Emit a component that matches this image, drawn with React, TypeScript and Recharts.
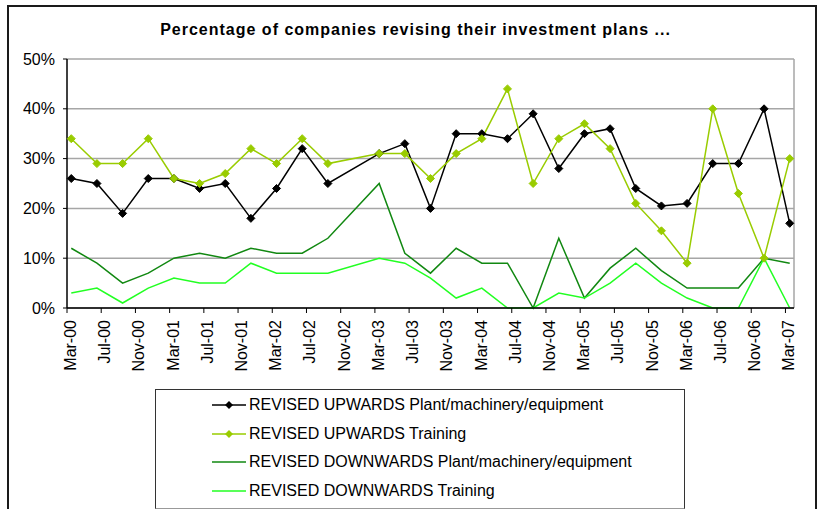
import { LineChart, Line, XAxis, YAxis, CartesianGrid, ReferenceLine } from 'recharts';

const PERIODS = [
  'Mar-00', 'Jun-00', 'Sep-00', 'Dec-00', 'Mar-01', 'Jun-01', 'Sep-01', 'Dec-01',
  'Mar-02', 'Jun-02', 'Sep-02', 'Dec-02', 'Mar-03', 'Jun-03', 'Sep-03', 'Dec-03',
  'Mar-04', 'Jun-04', 'Sep-04', 'Dec-04', 'Mar-05', 'Jun-05', 'Sep-05', 'Dec-05',
  'Mar-06', 'Jun-06', 'Sep-06', 'Dec-06', 'Mar-07',
];

const UP_PLANT = [26, 25, 19, 26, 26, 24, 25, 18, 24, 32, 25, null, 31, 33, 20, 35, 35, 34, 39, 28, 35, 36, 24, 20.5, 21, 29, 29, 40, 17];
const UP_TRAINING = [34, 29, 29, 34, 26, 25, 27, 32, 29, 34, 29, null, 31, 31, 26, 31, 34, 44, 25, 34, 37, 32, 21, 15.5, 9, 40, 23, 10, 30];
const DOWN_PLANT = [12, 9, 5, 7, 10, 11, 10, 12, 11, 11, 14, null, 25, 11, 7, 12, 9, 9, 0, 14, 2, 8, 12, 7.5, 4, 4, 4, 10, 9];
const DOWN_TRAINING = [3, 4, 1, 4, 6, 5, 5, 9, 7, 7, 7, null, 10, 9, 6, 2, 4, 0, 0, 3, 2, 5, 9, 5, 2, 0, 0, 10, 0];

const TICK_LABELS = [
  'Mar-00', 'Jul-00', 'Nov-00', 'Mar-01', 'Jul-01', 'Nov-01', 'Mar-02', 'Jul-02',
  'Nov-02', 'Mar-03', 'Jul-03', 'Nov-03', 'Mar-04', 'Jul-04', 'Nov-04', 'Mar-05',
  'Jul-05', 'Nov-05', 'Mar-06', 'Jul-06', 'Nov-06', 'Mar-07',
];
const Y_TICKS = [0, 10, 20, 30, 40, 50];

const MONTH_NAMES = ['Jan', 'Feb', 'Mar', 'Apr', 'May', 'Jun', 'Jul', 'Aug', 'Sep', 'Oct', 'Nov', 'Dec'];

// months since start of Mar-00
function monthOffset(label: string) {
  const [mon, yy] = label.split('-');
  return Number(yy) * 12 + MONTH_NAMES.indexOf(mon) - 2;
}

const SERIES = [
  { key: 'upPlant', name: 'REVISED UPWARDS Plant/machinery/equipment', color: '#000000', marker: true, values: UP_PLANT },
  { key: 'upTraining', name: 'REVISED UPWARDS Training', color: '#99CC00', marker: true, values: UP_TRAINING },
  { key: 'downPlant', name: 'REVISED DOWNWARDS Plant/machinery/equipment', color: '#118811', marker: false, values: DOWN_PLANT },
  { key: 'downTraining', name: 'REVISED DOWNWARDS Training', color: '#22FF22', marker: false, values: DOWN_TRAINING },
];

// points sit mid-month on the date axis
const chartData = PERIODS.map((p, i) => {
  const row: Record<string, number | null> = { t: monthOffset(p) + 0.5 };
  for (const s of SERIES) row[s.key] = s.values[i];
  return row;
});

const xTicks = TICK_LABELS.map(monthOffset);
const FONT = '"Liberation Sans", Arial, sans-serif';

function Diamond(props: any) {
  const { cx, cy, fill } = props;
  if (cx == null || cy == null || props.value == null) return <g key={props.key} />;
  const r = 4;
  return (
    <path
      key={props.key}
      d={`M${cx},${cy - r} L${cx + r},${cy} L${cx},${cy + r} L${cx - r},${cy} Z`}
      fill={fill}
      stroke={fill}
    />
  );
}

function XTick(props: any) {
  const { x, y, payload } = props;
  const label = TICK_LABELS[xTicks.indexOf(payload.value)] ?? '';
  return (
    <g transform={`translate(${x + 9},${y + 5}) rotate(-90)`}>
      <text textAnchor="end" fontSize={16} fill="#000" fontFamily={FONT}>
        {label}
      </text>
    </g>
  );
}

export default function App() {
  return (
    <div
      style={{
        position: 'absolute',
        left: 0,
        top: 0,
        width: 821,
        height: 509,
        overflow: 'hidden',
        background: '#fff',
        fontFamily: FONT,
      }}
    >
      <div
        style={{
          position: 'absolute',
          left: 7,
          top: 5,
          width: 806,
          height: 540,
          border: '2px solid #1a1a1a',
        }}
      />
      <div
        style={{
          position: 'absolute',
          left: 0,
          width: 831,
          top: 21,
          textAlign: 'center',
          fontWeight: 'bold',
          fontSize: 16,
          letterSpacing: 1,
          color: '#000',
        }}
      >
        Percentage of companies revising their investment plans ...
      </div>
      <LineChart
        width={821}
        height={509}
        data={chartData}
        margin={{ top: 59, right: 27, bottom: 140, left: 7 }}
        style={{ position: 'absolute', left: 0, top: 0 }}
      >
        <CartesianGrid horizontal vertical={false} stroke="#a6a6a6" strokeWidth={1.5} />
        <ReferenceLine x={85} stroke="#a6a6a6" strokeWidth={1.5} />
        <XAxis
          dataKey="t"
          type="number"
          domain={[0, 85]}
          ticks={xTicks}
          interval={0}
          height={61}
          tickSize={5}
          axisLine={{ stroke: '#000', strokeWidth: 1.5 }}
          tickLine={{ stroke: '#000' }}
          tick={<XTick />}
        />
        <YAxis
          type="number"
          domain={[0, 50]}
          ticks={Y_TICKS}
          width={60}
          tickSize={4}
          tickMargin={8}
          axisLine={{ stroke: '#000', strokeWidth: 1.5 }}
          tickLine={{ stroke: '#000' }}
          tickFormatter={(v: number) => `${v}%`}
          tick={{ fontSize: 16, fill: '#000', fontFamily: FONT }}
        />
        {SERIES.map((s) => (
          <Line
            key={s.key}
            type="linear"
            dataKey={s.key}
            name={s.name}
            stroke={s.color}
            strokeWidth={1.5}
            connectNulls
            dot={s.marker ? (p: any) => <Diamond {...p} fill={s.color} /> : false}
            activeDot={false}
            isAnimationActive={false}
          />
        ))}
      </LineChart>
      <div
        style={{
          position: 'absolute',
          left: 155,
          top: 389,
          width: 528,
          height: 118,
          border: '1px solid #333',
          borderBottomColor: '#999',
          background: '#fff',
        }}
      >
        {SERIES.map((s, i) => (
          <div
            key={s.key}
            style={{
              position: 'absolute',
              left: 56,
              top: 4 + i * 28.7,
              height: 22,
              display: 'flex',
              alignItems: 'center',
              fontSize: 16,
              color: '#000',
              whiteSpace: 'nowrap',
            }}
          >
            <svg width={34} height={10} style={{ marginRight: 3 }}>
              <line x1={0} y1={5} x2={34} y2={5} stroke={s.color} strokeWidth={1.5} />
              {s.marker && <path d="M17,1 L21,5 L17,9 L13,5 Z" fill={s.color} />}
            </svg>
            {s.name}
          </div>
        ))}
      </div>
    </div>
  );
}
